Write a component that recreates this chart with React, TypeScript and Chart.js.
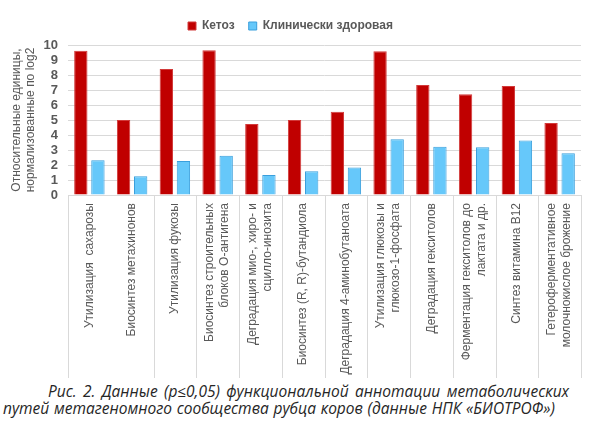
import React, { useEffect, useRef } from "react";
import { Chart, registerables } from "chart.js";

Chart.register(...registerables);

// Metabolic pathways (x categories), each label split into its display lines
const categories: string[][] = [
  ["Утилизация  сахарозы"],
  ["Биосинтез метахинонов"],
  ["Утилизация фукозы"],
  ["Биосинтез строительных", "блоков О-антигена"],
  ["Деградация мио-, хиро- и", "сцилло-инозита"],
  ["Биосинтез (R, R)-бутандиола"],
  ["Деградация 4-аминобутаноата"],
  ["Утилизация глюкозы и", "глюкозо-1-фосфата"],
  ["Деградация гекситолов"],
  ["Ферментация гекситолов до", "лактата и др."],
  ["Синтез витамина B12"],
  ["Гетероферментативное", "молочнокислое брожение"],
];

const seriesNames = ["Кетоз", "Клинически здоровая"];

// Relative units, log2-normalised
const ketosis = [9.62, 5.0, 8.4, 9.65, 4.73, 5.0, 5.55, 9.58, 7.33, 6.71, 7.27, 4.8];
const healthy = [2.31, 1.25, 2.27, 2.62, 1.33, 1.58, 1.84, 3.71, 3.22, 3.18, 3.64, 2.78];

const yMin = 0;
const yMax = 10;
const yStep = 1;

const yTitle = ["Относительные единицы,", "нормализованные по log2"];

const captionLines = [
  "Рис. 2. Данные (p≤0,05) функциональной аннотации метаболических",
  "путей метагеномного сообщества рубца коров (данные НПК «БИОТРОФ»)",
];

const TEXT = "#595959";
const GRID = "#D9D9D9";
const RED = "#C00000";
const RED_EDGE = "#D23A3A";
const BLUE = "#66C8FA";
const BLUE_EDGE = "#3A9FDC";
const SANS = "'Liberation Sans', Arial, sans-serif";

// Category labels in the band under the axis, rotated and centred on each
// category, separated by thin vertical rules.
const categoryBandPlugin = {
  id: "categoryBand",
  afterDraw(chart: any) {
    const { ctx, chartArea } = chart;
    const xs = chart.scales.x;
    const top = xs.top;
    const bottom = xs.bottom;
    const n = categories.length;

    ctx.save();
    ctx.strokeStyle = GRID;
    ctx.lineWidth = 1;
    for (let k = 0; k <= n; k++) {
      if (k === 1) continue;
      let px: number;
      if (k === 0) px = chartArea.left;
      else if (k === n) px = chartArea.right;
      else px = (xs.getPixelForValue(k - 1) + xs.getPixelForValue(k)) / 2;
      px = Math.round(px) + 0.5;
      ctx.beginPath();
      ctx.moveTo(px, top);
      ctx.lineTo(px, bottom);
      ctx.stroke();
    }

    ctx.fillStyle = TEXT;
    ctx.font = `12px ${SANS}`;
    ctx.textAlign = "right";
    ctx.textBaseline = "middle";
    const lh = 15;
    categories.forEach((lines, i) => {
      const cx = xs.getPixelForValue(i);
      lines.forEach((line, j) => {
        const off = (j - (lines.length - 1) / 2) * lh;
        ctx.save();
        ctx.translate(cx + off, top + 8);
        ctx.rotate(-Math.PI / 2);
        ctx.fillText(line, 0, 0);
        ctx.restore();
      });
    });
    ctx.restore();
  },
};

// A little extra room under the legend row
const legendSpacingPlugin = {
  id: "legendSpacing",
  afterInit(chart: any) {
    const legend = chart.legend;
    if (!legend) return;
    const fit = legend.fit;
    legend.fit = function () {
      fit.call(this);
      this.height += 3;
    };
  },
};

function BarChart() {
  const ref = useRef<HTMLCanvasElement | null>(null);

  useEffect(() => {
    if (!ref.current) return;
    const chart = new Chart(ref.current, {
      type: "bar",
      data: {
        labels: categories.map((c) => c.join(" ")),
        datasets: [
          {
            label: seriesNames[0],
            data: ketosis,
            backgroundColor: RED,
            borderColor: RED_EDGE,
            borderWidth: 1,
            categoryPercentage: 0.8,
            barPercentage: 0.78,
          },
          {
            label: seriesNames[1],
            data: healthy,
            backgroundColor: BLUE,
            borderColor: BLUE_EDGE,
            borderWidth: 1,
            categoryPercentage: 0.8,
            barPercentage: 0.78,
          },
        ],
      },
      options: {
        animation: false,
        responsive: false,
        maintainAspectRatio: false,
        layout: { padding: { top: 6, right: 11, bottom: 2, left: 0 } },
        plugins: {
          legend: {
            position: "top",
            align: "center",
            labels: {
              boxWidth: 8,
              boxHeight: 8,
              padding: 14,
              color: TEXT,
              font: { family: SANS, size: 12, weight: "bold" },
            },
          },
          tooltip: { enabled: false },
        },
        scales: {
          x: {
            type: "category",
            grid: { display: false, drawTicks: false },
            border: { display: true, color: GRID, width: 1 },
            ticks: { display: false },
            afterFit(scale: any) {
              scale.height = 183;
            },
          },
          y: {
            min: yMin,
            max: yMax,
            ticks: {
              stepSize: yStep,
              autoSkip: false,
              padding: 10,
              color: TEXT,
              font: { family: SANS, size: 13, weight: "bold" },
            },
            grid: { color: GRID, drawTicks: false, lineWidth: 1 },
            border: { display: false },
            title: {
              display: true,
              text: yTitle,
              color: TEXT,
              font: { family: SANS, size: 12 },
              padding: { top: 9, bottom: 0 },
            },
            afterFit(scale: any) {
              scale.width = 68;
            },
          },
        },
      },
      plugins: [categoryBandPlugin, legendSpacingPlugin],
    });
    return () => chart.destroy();
  }, []);

  return <canvas ref={ref} width={592} height={380} style={{ display: "block" }} />;
}

export default function App() {
  useEffect(() => {
    document.body.style.margin = "0";
  }, []);

  const captionStyle: React.CSSProperties = {
    position: "absolute",
    fontFamily: "'Open Sans', 'Noto Sans', sans-serif",
    fontStyle: "italic",
    fontSize: 15.5,
    lineHeight: "17px",
    color: "#262626",
    whiteSpace: "nowrap",
    textAlign: "justify",
    textAlignLast: "justify",
  };

  return (
    <div
      style={{
        position: "fixed",
        left: 0,
        top: 0,
        width: 592,
        height: 436,
        background: "#ffffff",
        overflow: "hidden",
      }}
    >
      <BarChart />
      <div style={{ ...captionStyle, left: 48, top: 383, width: 521 }}>{captionLines[0]}</div>
      <div style={{ ...captionStyle, left: 3, top: 400, width: 552 }}>{captionLines[1]}</div>
    </div>
  );
}
